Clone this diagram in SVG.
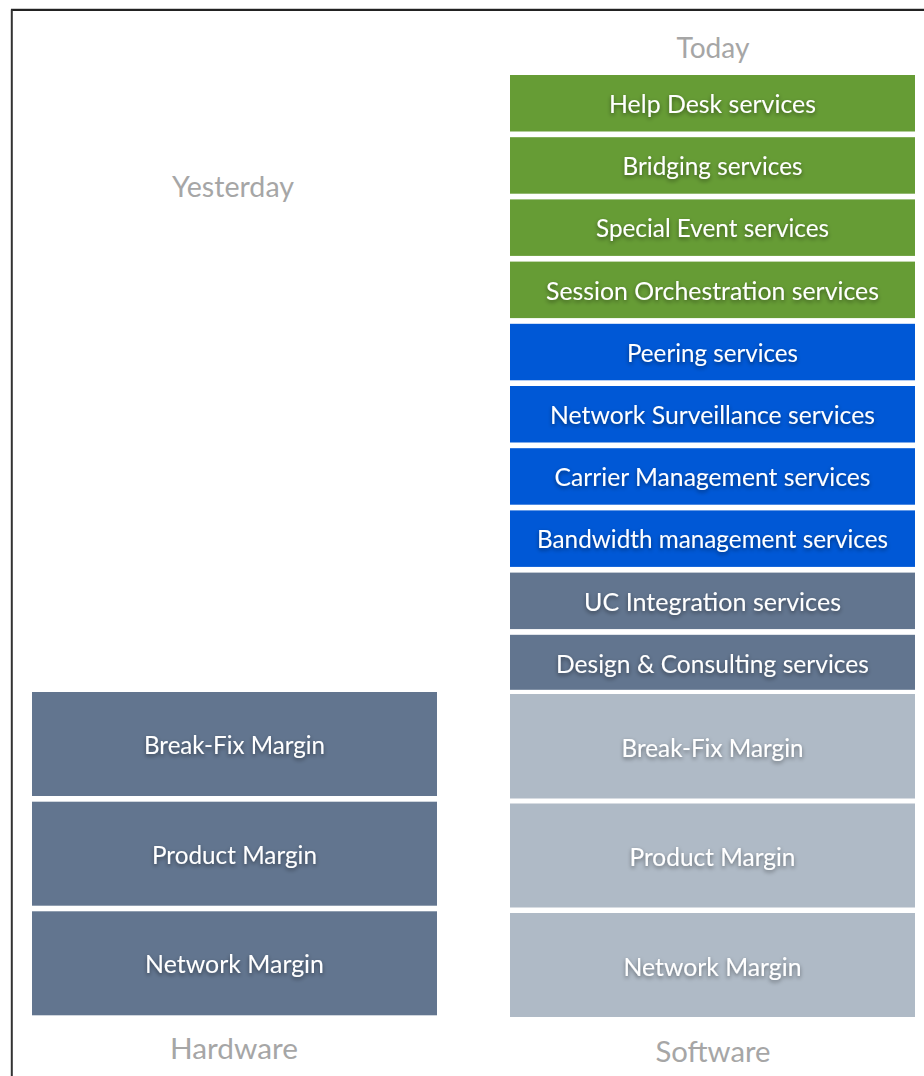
<svg xmlns="http://www.w3.org/2000/svg" width="924" height="1076" viewBox="0 0 924 1076">
<defs>
<filter id="ts" x="-10%" y="-40%" width="120%" height="180%">
<feDropShadow dx="0" dy="2" stdDeviation="2" flood-color="#000" flood-opacity="0.45"/>
</filter>
</defs>
<style>
.green{fill:#669c35}
.blue{fill:#0058d6}
.slate{fill:#62758f}
.light{fill:#afbac6}
.lbl{font-family:Lato,"Open Sans",sans-serif;font-size:25px;fill:#ffffff;text-anchor:middle;filter:url(#ts)}
.ttl{font-family:Lato,"Open Sans",sans-serif;font-size:28px;fill:#a6a6a6;text-anchor:middle}
</style>
<rect x="0" y="0" width="924" height="1076" fill="#ffffff"/>
<g id="frame">
<line x1="11" y1="8.5" x2="924" y2="8.5" stroke="#cccccc" stroke-width="1"/>
<line x1="11" y1="10" x2="924" y2="10" stroke="#222222" stroke-width="1.8"/>
<line x1="11.8" y1="9.5" x2="11.8" y2="1076" stroke="#333333" stroke-width="2"/>
</g>
<g id="titles">
<text class="ttl" x="713" y="58" textLength="73" lengthAdjust="spacingAndGlyphs">Today</text>
<text class="ttl" x="233" y="197" textLength="122" lengthAdjust="spacingAndGlyphs">Yesterday</text>
<text class="ttl" x="234" y="1059" textLength="128" lengthAdjust="spacingAndGlyphs">Hardware</text>
<text class="ttl" x="713" y="1062" textLength="115" lengthAdjust="spacingAndGlyphs">Software</text>
</g>
<g id="help-desk"><rect class="green" x="510" y="75" width="405" height="56.5"/><text class="lbl" x="712.5" y="113" textLength="207" lengthAdjust="spacingAndGlyphs">Help Desk services</text></g>
<g id="bridging"><rect class="green" x="510" y="137.2" width="405" height="56.5"/><text class="lbl" x="712.5" y="175.2" textLength="180" lengthAdjust="spacingAndGlyphs">Bridging services</text></g>
<g id="special-event"><rect class="green" x="510" y="199.4" width="405" height="56.5"/><text class="lbl" x="712.5" y="237.4" textLength="233" lengthAdjust="spacingAndGlyphs">Special Event services</text></g>
<g id="session-orchestration"><rect class="green" x="510" y="261.6" width="405" height="56.5"/><text class="lbl" x="712.5" y="299.6" textLength="333" lengthAdjust="spacingAndGlyphs">Session Orchestration services</text></g>
<g id="peering"><rect class="blue" x="510" y="323.8" width="405" height="56.5"/><text class="lbl" x="712.5" y="361.8" textLength="171" lengthAdjust="spacingAndGlyphs">Peering services</text></g>
<g id="network-surveillance"><rect class="blue" x="510" y="386" width="405" height="56.5"/><text class="lbl" x="712.5" y="424" textLength="325" lengthAdjust="spacingAndGlyphs">Network Surveillance services</text></g>
<g id="carrier-management"><rect class="blue" x="510" y="448.2" width="405" height="56.5"/><text class="lbl" x="712.5" y="486.2" textLength="316" lengthAdjust="spacingAndGlyphs">Carrier Management services</text></g>
<g id="bandwidth-management"><rect class="blue" x="510" y="510.4" width="405" height="56.5"/><text class="lbl" x="712.5" y="548.4" textLength="351" lengthAdjust="spacingAndGlyphs">Bandwidth management services</text></g>
<g id="uc-integration"><rect class="slate" x="510" y="572.6" width="405" height="56.5"/><text class="lbl" x="712.5" y="610.6" textLength="257" lengthAdjust="spacingAndGlyphs">UC Integration services</text></g>
<g id="design-consulting"><rect class="slate" x="510" y="634.8" width="405" height="55"/><text class="lbl" x="712.5" y="672.5" textLength="313" lengthAdjust="spacingAndGlyphs">Design &amp; Consulting services</text></g>
<g id="sw-break-fix"><rect class="light" x="510" y="694" width="405" height="104.5"/><text class="lbl" x="712.5" y="756.5" textLength="182" lengthAdjust="spacingAndGlyphs">Break-Fix Margin</text></g>
<g id="sw-product"><rect class="light" x="510" y="803.5" width="405" height="104"/><text class="lbl" x="712.5" y="865.5" textLength="166" lengthAdjust="spacingAndGlyphs">Product Margin</text></g>
<g id="sw-network"><rect class="light" x="510" y="913" width="405" height="104"/><text class="lbl" x="712.5" y="975.5" textLength="178" lengthAdjust="spacingAndGlyphs">Network Margin</text></g>
<g id="hw-break-fix"><rect class="slate" x="32" y="692" width="405" height="104"/><text class="lbl" x="234.5" y="754" textLength="181" lengthAdjust="spacingAndGlyphs">Break-Fix Margin</text></g>
<g id="hw-product"><rect class="slate" x="32" y="801.7" width="405" height="104"/><text class="lbl" x="234.5" y="863.5" textLength="165" lengthAdjust="spacingAndGlyphs">Product Margin</text></g>
<g id="hw-network"><rect class="slate" x="32" y="911.3" width="405" height="104"/><text class="lbl" x="234.5" y="973" textLength="179" lengthAdjust="spacingAndGlyphs">Network Margin</text></g>
<g id="connectors"></g>
</svg>
